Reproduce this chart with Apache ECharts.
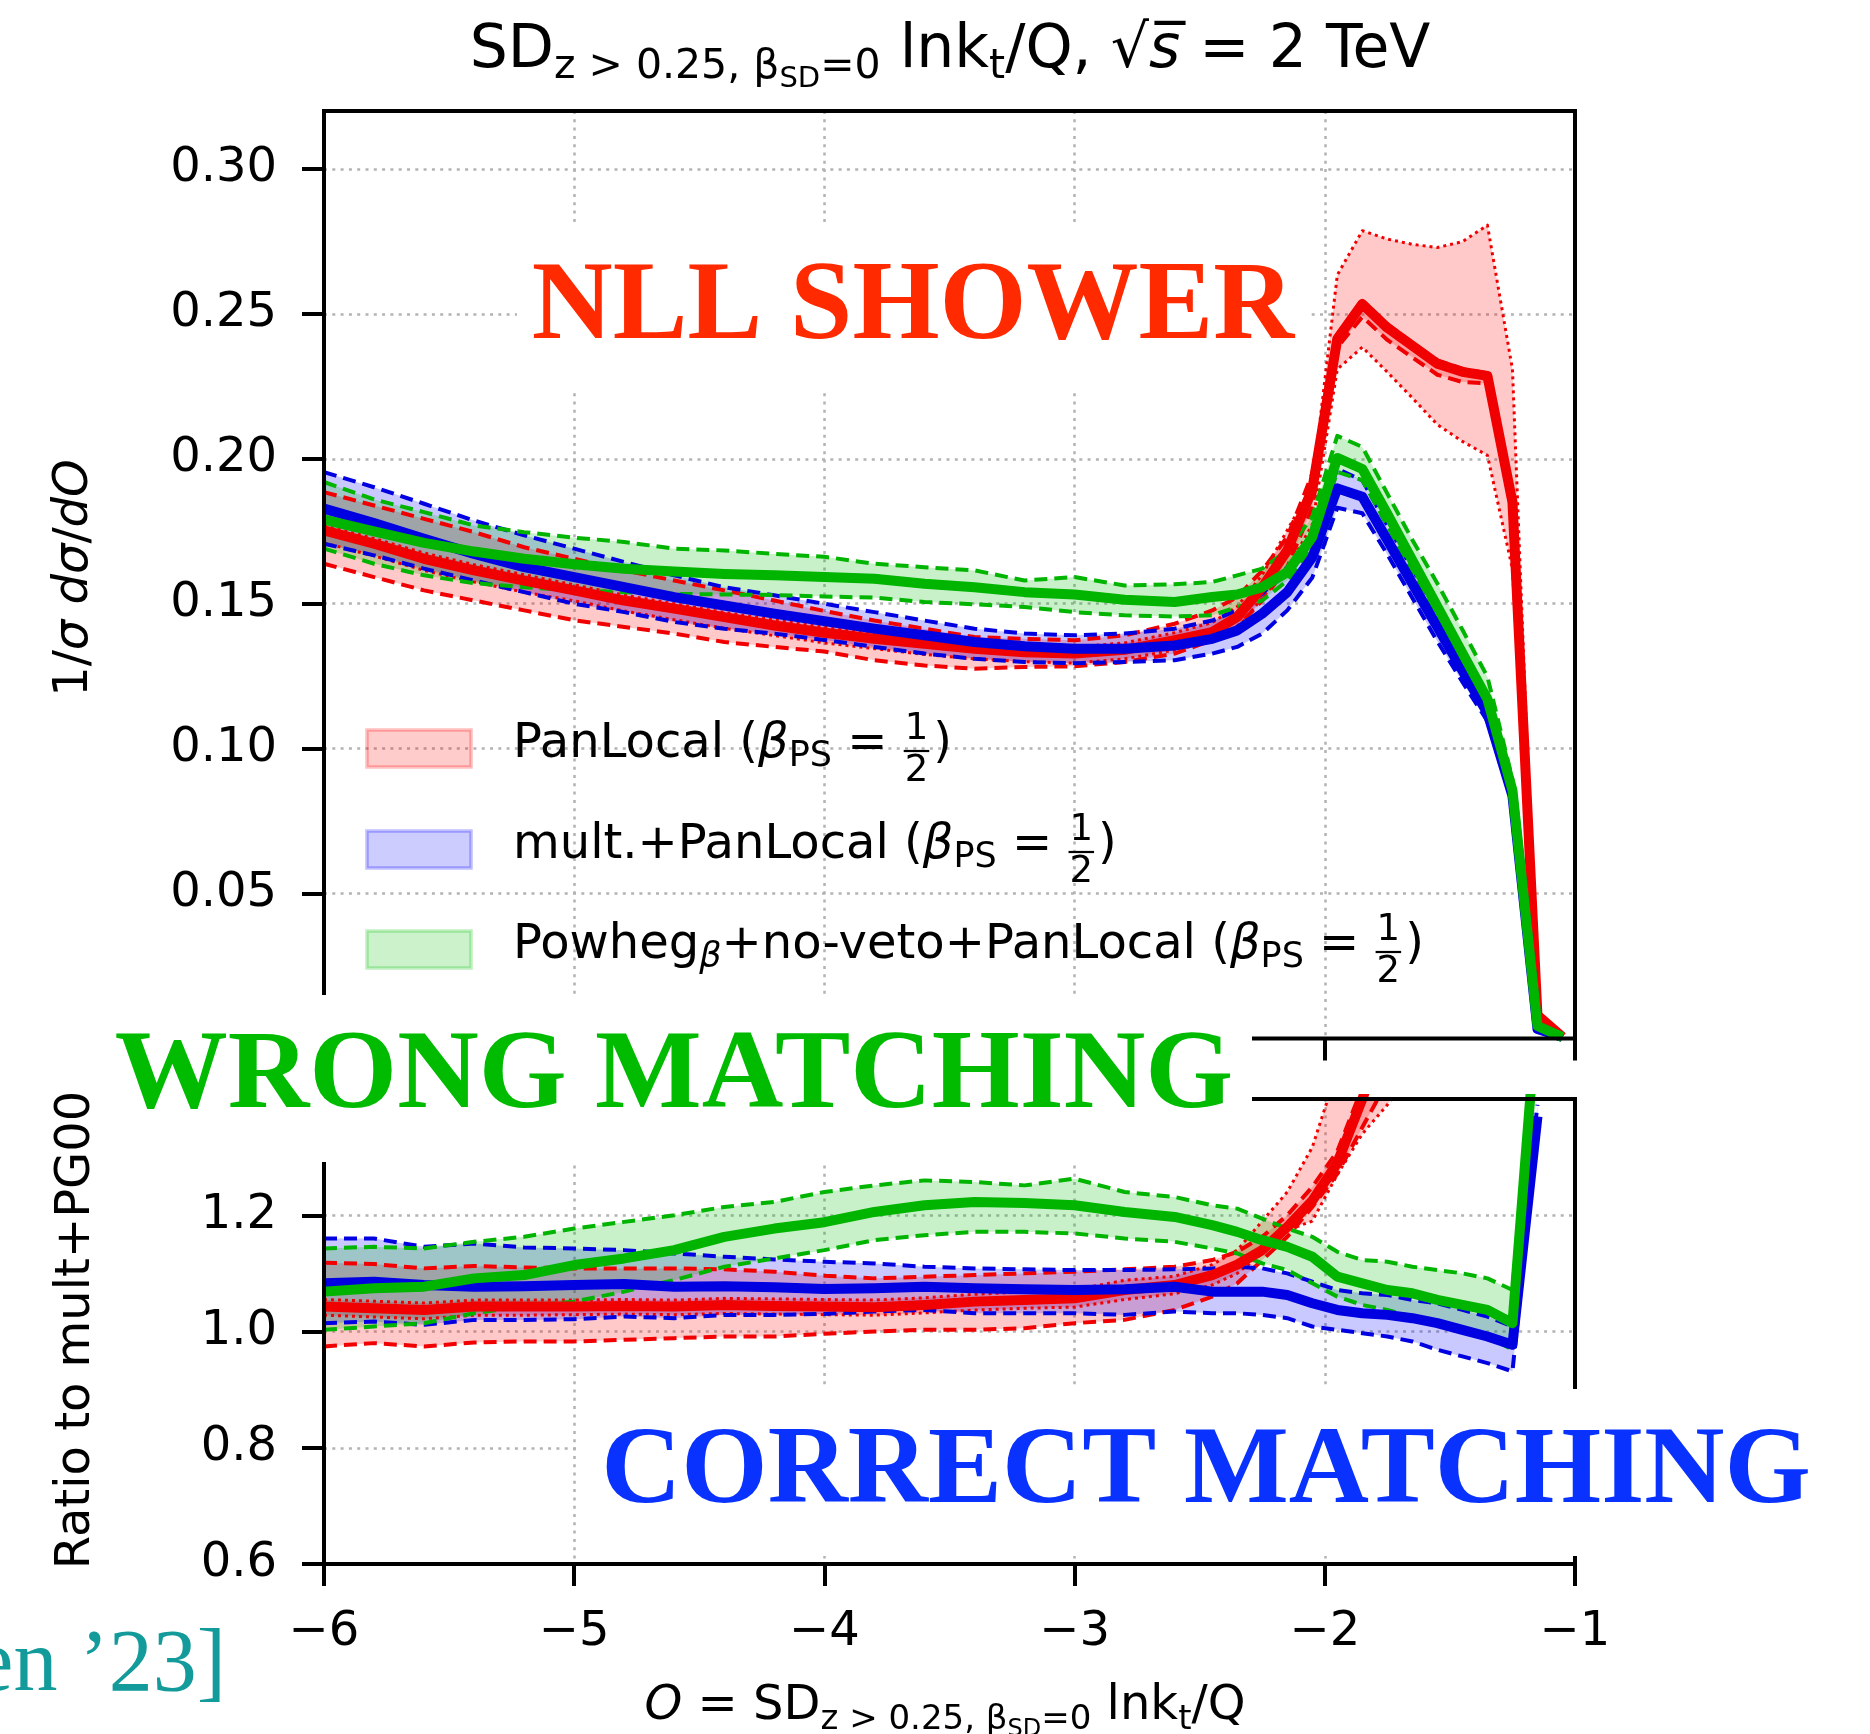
<!DOCTYPE html>
<html><head><meta charset="utf-8">
<script src="https://cdn.jsdelivr.net/npm/echarts@6.0.0/dist/echarts.min.js"></script>
<style>html,body{margin:0;padding:0;background:#fff}#c{width:1870px;height:1734px}</style>
</head><body><div id="c"></div>
<script>
// ---------------- DATA ----------------
const X = [-6.0,-5.8,-5.6,-5.4,-5.2,-5.0,-4.8,-4.6,-4.4,-4.2,-4.0,-3.8,-3.6,-3.4,-3.2,-3.0,-2.8,-2.6,
           -2.45,-2.35,-2.25,-2.15,-2.05,-1.95,-1.85,-1.75,-1.65,-1.55,-1.45,-1.35,-1.25,-1.15,-1.05];

// top panel: 1/sigma dsigma/dO
const topRed      = [0.1753,0.1707,0.1655,0.1615,0.158,0.1546,0.1511,0.1483,0.1454,0.1425,0.140,0.1379,0.1362,0.1345,0.1333,0.1328,0.1341,0.1374,
                     0.1402,0.1454,0.1557,0.1684,0.1895,0.2414,0.2534,0.2452,0.239,0.2328,0.230,0.2286,0.185,0.008,0.0005];
const topRedDashHi= [0.1885,0.1839,0.1793,0.1747,0.1695,0.1655,0.1615,0.158,0.1546,0.1511,0.1475,0.1442,0.1414,0.1385,0.1379,0.1374,0.1391,0.1431,
                     0.1477,0.1523,0.1615,0.173,0.1948,0.243,0.2545,0.2465,0.240,0.234,0.231,0.2295,0.187,0.0085,0.0005];
const topRedDashLo= [0.1638,0.1592,0.1546,0.1511,0.1477,0.1443,0.142,0.1397,0.1368,0.1351,0.1335,0.1305,0.1287,0.1276,0.1282,0.1284,0.1299,0.1328,
                     0.1374,0.142,0.1511,0.1626,0.1833,0.2385,0.249,0.241,0.235,0.229,0.2265,0.226,0.182,0.0075,0.0005];
const topRedDotHi = [0.177,0.1725,0.1675,0.1635,0.160,0.1565,0.153,0.150,0.147,0.1445,0.142,0.140,0.138,0.1365,0.1355,0.135,0.1365,0.140,
                     0.1435,0.149,0.160,0.1754,0.1907,0.2634,0.2787,0.2758,0.274,0.2729,0.2749,0.2806,0.2309,0.009,0.0005];
const topRedDotLo = [0.171,0.1665,0.1615,0.1575,0.154,0.151,0.1475,0.1445,0.1415,0.139,0.1365,0.1345,0.1325,0.131,0.130,0.1295,0.131,0.134,
                     0.137,0.1415,0.152,0.162,0.1773,0.2309,0.2385,0.2299,0.221,0.2118,0.206,0.2012,0.162,0.007,0.0005];
const topBlue     = [0.1828,0.1778,0.1724,0.1672,0.1626,0.1592,0.1557,0.1523,0.1494,0.1466,0.144,0.1414,0.1391,0.1368,0.1353,0.1345,0.1345,0.1356,
                     0.1379,0.1408,0.1466,0.154,0.166,0.1898,0.1869,0.172,0.157,0.142,0.127,0.1123,0.0837,0.0033,0.0005];
const topBlueHi   = [0.1954,0.1902,0.1845,0.1787,0.1736,0.169,0.1644,0.1598,0.1557,0.1529,0.150,0.1471,0.1442,0.1414,0.1397,0.1391,0.1397,0.1414,
                     0.1442,0.1477,0.1534,0.1626,0.173,0.1965,0.1926,0.177,0.162,0.147,0.131,0.1162,0.0866,0.004,0.0006];
const topBlueLo   = [0.1707,0.1667,0.1621,0.158,0.154,0.150,0.1471,0.1437,0.1414,0.1397,0.1375,0.1351,0.1328,0.131,0.1299,0.1295,0.1299,0.1305,
                     0.1328,0.1351,0.1397,0.1477,0.159,0.1831,0.1812,0.167,0.152,0.137,0.123,0.1095,0.0818,0.003,0.0004];
const topGreen    = [0.179,0.175,0.171,0.168,0.1655,0.1636,0.1621,0.1611,0.1603,0.1598,0.1592,0.1586,0.1569,0.1557,0.154,0.1532,0.1514,0.1506,
                     0.1523,0.1532,0.1557,0.1609,0.173,0.2003,0.1965,0.181,0.165,0.149,0.133,0.1171,0.0856,0.0043,0.0005];
const topGreenHi  = [0.192,0.186,0.1816,0.177,0.1747,0.1728,0.1713,0.169,0.1684,0.1672,0.1662,0.1638,0.1626,0.1615,0.158,0.1592,0.1563,0.1567,
                     0.1575,0.1598,0.1621,0.1684,0.180,0.2079,0.2041,0.188,0.172,0.157,0.141,0.1248,0.0894,0.005,0.0006];
const topGreenLo  = [0.169,0.1638,0.1598,0.1571,0.1557,0.1546,0.154,0.1534,0.1532,0.153,0.1525,0.1521,0.1506,0.1498,0.1489,0.1471,0.146,0.1456,
                     0.146,0.1489,0.1511,0.158,0.1697,0.1955,0.1926,0.177,0.161,0.145,0.129,0.1143,0.0837,0.0038,0.0004];

// bottom panel: ratio to mult+PG00
const ratRed      = [1.0429,1.040,1.0371,1.0429,1.0429,1.0429,1.044,1.0429,1.0457,1.044,1.043,1.0417,1.0457,1.0514,1.0543,1.0571,1.0714,1.080,
                     1.097,1.115,1.140,1.180,1.225,1.290,1.400,1.520,null,null,null,null,null,null,null];
const ratRedDashHi= [1.1183,1.116,1.1086,1.1126,1.1103,1.1086,1.1086,1.1086,1.1069,1.1029,1.096,1.0914,1.0943,1.0971,1.100,1.1029,1.1069,1.1114,
                     1.1229,1.1371,1.1629,1.200,1.2486,1.310,1.420,1.550,null,null,null,null,null,null,null];
const ratRedDashLo= [0.9743,0.980,0.9743,0.9811,0.9829,0.9829,0.9857,0.9886,0.9914,0.9914,0.996,1.000,1.0029,1.0029,1.0057,1.0143,1.020,1.0371,
                     1.060,1.0829,1.1229,1.1629,1.2143,1.2714,1.3514,1.430,null,null,null,null,null,null,null];
const ratRedDotHi = [1.055,1.052,1.049,1.054,1.054,1.054,1.055,1.054,1.057,1.056,1.055,1.054,1.058,1.064,1.068,1.072,1.088,1.095,
                     1.115,1.140,1.190,1.240,1.317,1.450,1.560,1.650,1.720,null,null,null,null,null,null];
const ratRedDotLo = [1.028,1.025,1.022,1.028,1.028,1.029,1.030,1.029,1.031,1.030,1.029,1.028,1.032,1.037,1.040,1.042,1.055,1.065,
                     1.080,1.100,1.1343,1.1743,1.190,1.270,1.340,1.390,1.450,null,null,null,null,null,null];
const ratBlue     = [1.0829,1.0857,1.080,1.0771,1.078,1.080,1.0817,1.0771,1.078,1.076,1.073,1.0743,1.0771,1.0743,1.0726,1.0714,1.0726,1.0771,
                     1.0686,1.0686,1.0686,1.0629,1.0486,1.0371,1.0314,1.0286,1.0229,1.0143,1.0029,0.9914,0.9771,1.370,null];
const ratBlueHi   = [1.160,1.160,1.1457,1.1514,1.1446,1.1429,1.140,1.1343,1.1286,1.124,1.120,1.1171,1.1114,1.1086,1.1069,1.1057,1.1057,1.1069,
                     1.1086,1.1114,1.1086,1.100,1.0857,1.0714,1.0657,1.0629,1.0543,1.0486,1.0371,1.0257,1.0086,1.390,null];
const ratBlueLo   = [1.0143,1.0171,1.0114,1.020,1.020,1.0211,1.0257,1.0229,1.0286,1.0286,1.0303,1.0343,1.0371,1.0314,1.0314,1.0314,1.0286,1.0343,
                     1.0314,1.0314,1.0286,1.0229,1.0086,1.0029,0.9971,0.9914,0.9829,0.9686,0.9571,0.9457,0.9314,1.350,null];
const ratGreen    = [1.0686,1.0743,1.0771,1.0914,1.0971,1.1143,1.1257,1.140,1.1629,1.1771,1.188,1.2057,1.2171,1.2229,1.2211,1.2171,1.2057,1.1971,
                     1.1829,1.1714,1.1571,1.1457,1.1286,1.0943,1.0829,1.0714,1.0657,1.0543,1.0457,1.0371,1.0143,1.560,null];
const ratGreenHi  = [1.1429,1.1457,1.1429,1.1543,1.1629,1.1771,1.1886,1.200,1.2143,1.2229,1.240,1.2514,1.260,1.2571,1.2514,1.2629,1.240,1.2314,
                     1.2171,1.2114,1.1943,1.1771,1.1629,1.1371,1.1229,1.120,1.1114,1.1057,1.100,1.0914,1.0714,1.580,null];
const ratGreenLo  = [1.0029,1.0086,1.0143,1.0314,1.0429,1.0514,1.0686,1.0886,1.1114,1.1257,1.140,1.1571,1.1657,1.1714,1.1714,1.1686,1.160,1.1543,
                     1.1429,1.1343,1.1171,1.1057,1.0829,1.060,1.0457,1.0371,1.0257,1.0171,1.0057,0.9914,0.9686,1.540,null];

const topTicks = [0, 0.05, 0.10, 0.15, 0.20, 0.25, 0.30];

// ---------------- BUILD ----------------
const COL = {red:'#f00000', blue:'#0000e0', green:'#00b400'};
const FILL = {red:'rgba(255,0,0,0.21)', blue:'rgba(0,0,255,0.21)', green:'rgba(0,190,0,0.21)'};
const pairs = arr => X.map((x,i) => [x, arr[i] == null ? null : arr[i]]);
const series = [];
function band(g, lo, hi, fill){
  const idx = X.map((x,i)=>i).filter(i=>lo[i]!=null && hi[i]!=null);
  series.push({type:'custom', xAxisIndex:g, yAxisIndex:g, z:1, silent:true,
    data: idx.map(i=>[X[i], lo[i], hi[i]]),
    encode:{x:0, y:[1,2]},
    renderItem:(params, api)=>{
      if (params.dataIndex !== 0) return null;
      const pts = [];
      idx.forEach(i=>pts.push(api.coord([X[i], lo[i]])));
      for (let k=idx.length-1;k>=0;k--){ const i=idx[k]; pts.push(api.coord([X[i], hi[i]])); }
      const cs = params.coordSys;
      return {type:'polygon', shape:{points:pts}, style:{fill:fill},
        clipPath:{type:'rect', shape:{x:cs.x, y:cs.y, width:cs.width, height:cs.height}}};
    }
  });
}
function line(g, arr, color, width, type, z){
  series.push({type:'line', xAxisIndex:g, yAxisIndex:g, data:pairs(arr), symbol:'none', silent:true,
    lineStyle:{color, width, type, cap:'butt', join:'round'}, z});
}
const DASH = [13,7], DOT = [3,4];
band(0, topRedDashLo, topRedDashHi, FILL.red);
band(0, topRedDotLo, topRedDotHi, FILL.red);
band(0, topBlueLo, topBlueHi, FILL.blue);
band(0, topGreenLo, topGreenHi, FILL.green);
band(1, ratRedDashLo, ratRedDashHi, FILL.red);
band(1, ratRedDotLo, ratRedDotHi, FILL.red);
band(1, ratBlueLo, ratBlueHi, FILL.blue);
band(1, ratGreenLo, ratGreenHi, FILL.green);
[[0,[topRedDashLo,topRedDashHi],[topRedDotLo,topRedDotHi],[topBlueLo,topBlueHi],[topGreenLo,topGreenHi]],
 [1,[ratRedDashLo,ratRedDashHi],[ratRedDotLo,ratRedDotHi],[ratBlueLo,ratBlueHi],[ratGreenLo,ratGreenHi]]].forEach(p=>{
  const g=p[0];
  p[1].forEach(a=>line(g,a,COL.red,4,DASH,2));
  p[2].forEach(a=>line(g,a,COL.red,3,DOT,2));
  p[3].forEach(a=>line(g,a,COL.blue,4,DASH,2));
  p[4].forEach(a=>line(g,a,COL.green,4,DASH,2));
});
line(0, topRed, COL.red, 10, 'solid', 3);
line(0, topBlue, COL.blue, 10, 'solid', 3);
line(0, topGreen, COL.green, 10, 'solid', 3);
line(1, ratRed, COL.red, 10, 'solid', 3);
line(1, ratBlue, COL.blue, 10, 'solid', 3);
line(1, ratGreen, COL.green, 10, 'solid', 3);

const FONT = 'DejaVu Sans';
const gridLine = {show:true, lineStyle:{color:'#b3b3b3', width:2.5, type:[3,5.3]}};
const tick = {show:true, inside:false, length:22, lineStyle:{color:'#000', width:4}};
const minus = v => (v<0?'\u2212':'') + Math.abs(v);

// ---------- graphics (labels, legend, overlays) ----------
const G = [];
function T(o){
  G.push({type:'text', x:o.x, y:o.y, rotation:o.rotation||0, z:o.z||110, silent:true,
    style:{text:o.text, font:o.font, fill:o.fill||'#000',
      align:o.align||'left', textAlign:o.align||'left',
      verticalAlign:o.va||'middle', textVerticalAlign:o.va||'middle', rich:o.rich}});
}
const cvs = document.createElement('canvas').getContext('2d');
function tw(t, s, it){ cvs.font = (it?'italic ':'') + s + 'px "' + FONT + '"'; return cvs.measureText(t).width; }

function mathRich(m, s, ss, ps, pss){
  return {
    m:{fontSize:m, fontFamily:FONT, fill:'#000', lineHeight:m+8},
    mi:{fontSize:m, fontFamily:FONT, fontStyle:'italic', fill:'#000', lineHeight:m+8},
    s:{fontSize:s, fontFamily:FONT, fill:'#000', lineHeight:s+4, padding:[ps,0,0,0]},
    ss:{fontSize:ss, fontFamily:FONT, fill:'#000', lineHeight:ss+2, padding:[pss,0,0,0]}
  };
}
T({x:950, y:51, align:'center', text:'{m|SD}{s|z > 0.25, β}{ss|SD}{s|=0}{m| lnk}{s|t}{m|/Q, √}{mi|s\u0305}{m| = 2 TeV}',
   rich:mathRich(60,41,29,32,56)});
T({x:945, y:1707, align:'center', text:'{mi|O}{m| = SD}{s|z > 0.25, β}{ss|SD}{s|=0}{m| lnk}{s|t}{m|/Q}',
   rich:mathRich(48,34,24,26,46)});
T({x:75, y:578, rotation:Math.PI/2, align:'center', text:'{n|1/}{i|σ}{n| }{i|dσ}{n|/}{i|dO}',
   rich:{n:{fontSize:48,fontFamily:FONT,fill:'#000'}, i:{fontSize:48,fontFamily:FONT,fontStyle:'italic',fill:'#000'}}});
T({x:77, y:1330, rotation:Math.PI/2, align:'center', text:'Ratio to mult+PG00', font:'48px "'+FONT+'"'});

// legend
const LS = 48, LSUB = 35, LFR = 37;
function legendRow(yc, patchFill, patchStroke, segs){
  G.push({type:'rect', shape:{x:367, y:yc-15, width:104, height:37}, z:50, silent:true,
    style:{fill:patchFill, stroke:patchStroke, lineWidth:3.5}});
  let x = 513;
  segs.forEach(sg=>{
    if (sg.frac){
      const w = Math.max(tw('1',LFR), tw('2',LFR)) + 4;
      T({x:x+w/2, y:yc-16, align:'center', text:'1', font:LFR+'px "'+FONT+'"'});
      T({x:x+w/2, y:yc+26, align:'center', text:'2', font:LFR+'px "'+FONT+'"'});
      G.push({type:'line', shape:{x1:x+1, y1:yc+6, x2:x+w-1, y2:yc+6}, z:110, silent:true, style:{stroke:'#000', lineWidth:2.2}});
      x += w + 3;
    } else {
      const s = sg.s || LS;
      T({x, y:yc+(sg.dy||0), text:sg.t, font:(sg.it?'italic ':'')+s+'px "'+FONT+'"'});
      x += tw(sg.t, s, sg.it);
    }
  });
}
const tailSegs = [{t:'β', it:1}, {t:'PS', s:LSUB, dy:12}, {t:' = '}, {frac:1}, {t:')'}];
legendRow(745, 'rgba(255,0,0,0.2)', 'rgba(255,0,0,0.25)', [{t:'PanLocal ('}].concat(tailSegs));
legendRow(846, 'rgba(0,0,255,0.2)', 'rgba(0,0,255,0.25)', [{t:'mult.+PanLocal ('}].concat(tailSegs));
legendRow(946, 'rgba(0,190,0,0.2)', 'rgba(0,190,0,0.25)', [{t:'Powheg'}, {t:'β', s:LSUB, it:1, dy:12}, {t:'+no-veto+PanLocal ('}].concat(tailSegs));

// overlay annotation boxes
function box(x,y,w,h){ G.push({type:'rect', shape:{x,y,width:w,height:h}, style:{fill:'#fff'}, z:100, silent:true}); }
box(517, 227, 792, 166);
box(100, 995, 1152, 167);
box(578, 1389, 1260, 167);
T({x:913, y:309, align:'center', text:'NLL SHOWER', font:'bold 112px "Liberation Serif"', fill:'#ff2a00', z:120});
T({x:674, y:1078, align:'center', text:'WRONG MATCHING', font:'bold 113px "Liberation Serif"', fill:'#00bb00', z:120});
T({x:1206, y:1473, align:'center', text:'CORRECT MATCHING', font:'bold 111px "Liberation Serif"', fill:'#0a32ff', z:120});
T({x:226, y:1667, align:'right', text:'en \u201923]', font:'88px "Liberation Serif"', fill:'#139a9a', z:120});

const option = {
  animation:false,
  backgroundColor:'#fff',
  grid:[
    {z:10, left:324, top:111, width:1251, height:927.5, show:true, borderColor:'#000', borderWidth:4, backgroundColor:'transparent'},
    {z:10, left:324, top:1099, width:1251, height:465, show:true, borderColor:'#000', borderWidth:4, backgroundColor:'transparent'}
  ],
  xAxis:[
    {gridIndex:0, type:'value', min:-6, max:-1, interval:1, axisLine:{show:false}, axisTick:tick,
     axisLabel:{show:false}, splitLine:gridLine},
    {gridIndex:1, type:'value', min:-6, max:-1, interval:1, axisLine:{show:false}, axisTick:tick,
     axisLabel:{show:true, formatter:minus, fontSize:48, fontFamily:FONT, color:'#000', margin:45}, splitLine:gridLine}
  ],
  yAxis:[
    {gridIndex:0, type:'value', min:0, max:0.32, interval:0.05, axisLine:{show:false},
     axisTick:Object.assign({customValues:topTicks}, tick),
     axisLabel:{customValues:topTicks, formatter:v=>v.toFixed(2), fontSize:48, fontFamily:FONT, color:'#000', margin:47},
     splitLine:gridLine},
    {gridIndex:1, type:'value', min:0.6, max:1.4, interval:0.2, axisLine:{show:false}, axisTick:tick,
     axisLabel:{formatter:v=>v.toFixed(1), fontSize:48, fontFamily:FONT, color:'#000', margin:47},
     splitLine:gridLine}
  ],
  series,
  graphic:G
};
const chart = echarts.init(document.getElementById('c'), null, {renderer:'canvas'});
chart.setOption(option);
</script></body></html>
